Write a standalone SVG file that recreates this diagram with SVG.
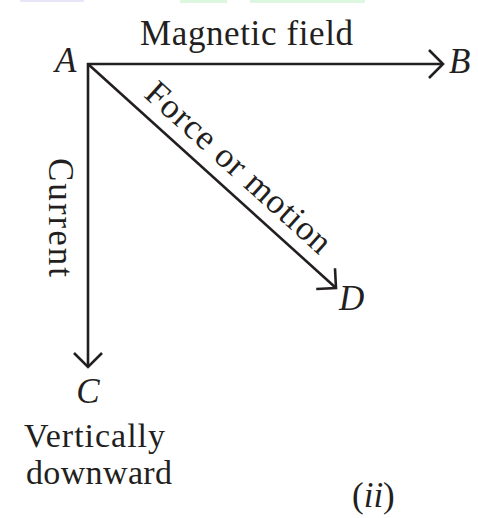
<svg xmlns="http://www.w3.org/2000/svg" width="478" height="518" viewBox="0 0 478 518">
<style>
  text { font-family: "Liberation Serif", "Times New Roman", serif; fill: #231f20; font-size: 35px; }
  .it { font-style: italic; }
  .sm { font-size: 34px; }
  .ln { stroke: #231f20; stroke-width: 2.6; fill: none; }
</style>
<defs>
  <marker id="chev" markerUnits="userSpaceOnUse" orient="auto" viewBox="-18 -18 22 36" refX="0" refY="0" markerWidth="22" markerHeight="36" overflow="visible">
    <path d="M-14,-14 L0,0 L-14,14" fill="none" stroke="#231f20" stroke-width="2.6" stroke-linejoin="miter"/>
  </marker>
</defs>
<rect width="478" height="518" fill="#ffffff"/>
<g id="watermark" opacity="0.35">
  <rect x="20" y="0" width="64" height="2" fill="#b8b8ec"/>
  <rect x="180" y="0" width="47" height="3" fill="#9fe8a8"/>
  <rect x="250" y="0" width="115" height="3" fill="#9fe8a8"/>
</g>
<g id="connectors">
  <line id="AB" class="ln" x1="87" y1="64" x2="443" y2="64" marker-end="url(#chev)"/>
  <line id="AC" class="ln" x1="88" y1="63" x2="88" y2="367" marker-end="url(#chev)"/>
  <line id="AD" class="ln" x1="88" y1="64" x2="336" y2="288" marker-end="url(#chev)"/>
</g>
<g id="labels">
  <text id="lbl-field" x="140" y="45" textLength="213" lengthAdjust="spacing">Magnetic field</text>
  <text id="lbl-current" transform="translate(49,158) rotate(90)" textLength="119" lengthAdjust="spacing">Current</text>
  <text id="lbl-force" transform="translate(142.7,95.9) rotate(42.1)" textLength="238" lengthAdjust="spacing">Force or motion</text>
  <text id="lbl-vert1" class="sm" x="24" y="447" textLength="141" lengthAdjust="spacing">Vertically</text>
  <text id="lbl-vert2" class="sm" x="26" y="484" textLength="146" lengthAdjust="spacing">downward</text>
  <text id="lbl-ii" x="352" y="507">(<tspan class="it">ii</tspan>)</text>
</g>
<g id="node-A"><text class="it" x="55" y="72">A</text></g>
<g id="node-B"><text class="it" x="449" y="73">B</text></g>
<g id="node-C"><text class="it" x="88" y="403" text-anchor="middle">C</text></g>
<g id="node-D"><text class="it" x="339" y="310">D</text></g>
</svg>
